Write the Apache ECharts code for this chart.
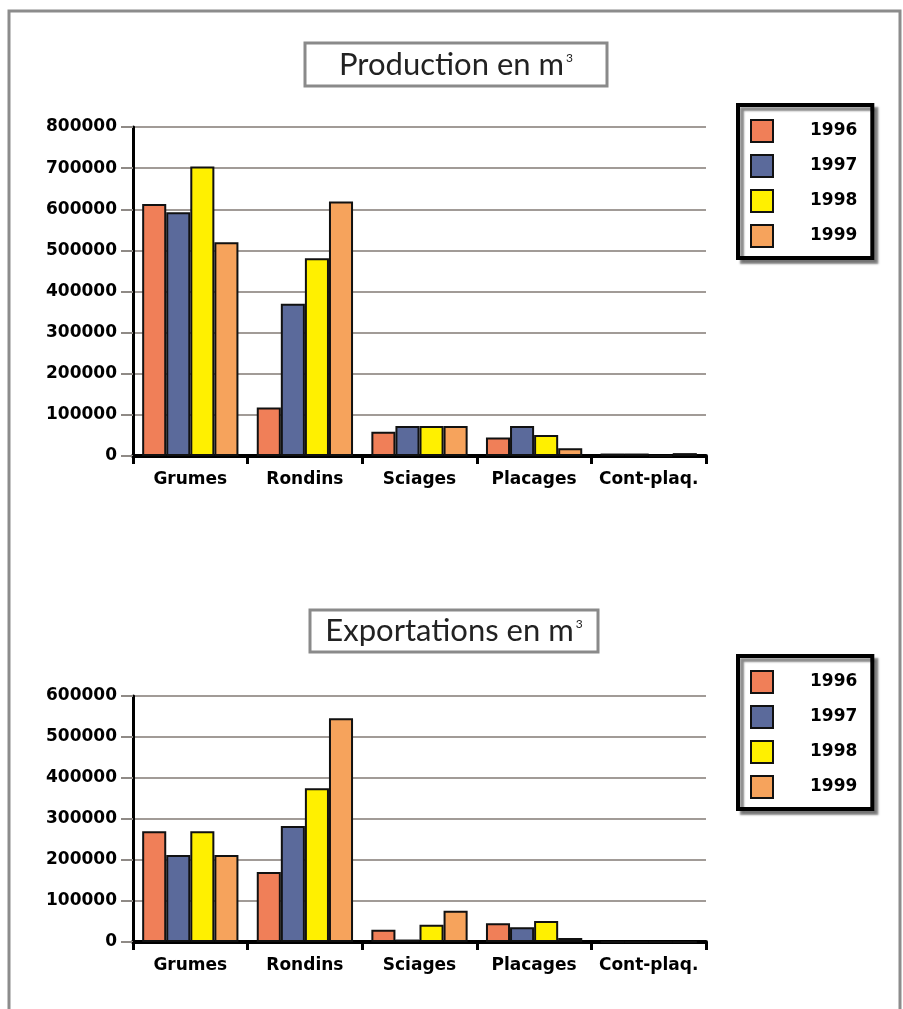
<!DOCTYPE html>
<html>
<head>
<meta charset="utf-8">
<script src="https://cdn.jsdelivr.net/npm/echarts@6/dist/echarts.min.js"></script>
<style>
  html, body { margin: 0; padding: 0; background: #ffffff; }
  #chart { width: 903px; height: 1009px; }
</style>
</head>
<body>
<div id="chart"></div>
<script>
// Product categories and years
const categories = ['Grumes', 'Rondins', 'Sciages', 'Placages', 'Cont-plaq.'];
const years = ['1996', '1997', '1998', '1999'];

// Production (m³) per year
const production1996 = [613000, 118000, 59000, 45000, 6000];
const production1997 = [593000, 370000, 73000, 73000, 6000];
const production1998 = [704000, 481000, 73000, 51000, 1500];
const production1999 = [520000, 619000, 73000, 19000, 7000];

// Exports (m³) per year
const export1996 = [270000, 171000, 30000, 46000, 0];
const export1997 = [212000, 283000, 6000, 36000, 0];
const export1998 = [270000, 375000, 42000, 51000, 0];
const export1999 = [212000, 546000, 76000, 10000, 0];

// Value axis ranges
const productionMax = 800000;
const exportMax = 600000;
const axisStep = 100000;

const yearColors = ['#F07F58', '#5B6A9B', '#FFF000', '#F6A35C'];
const productionSeries = [production1996, production1997, production1998, production1999];
const exportSeries = [export1996, export1997, export1998, export1999];

const labelFont = { fontFamily: 'DejaVu Sans', fontWeight: 'bold', fontSize: 17, color: '#000' };

// Framed heading: the box is a rect, the text is a title centred in it
function titleText(text, cx, cy) {
  return {
    text: '{t|' + text + '}{s|3}',
    left: cx,
    top: cy,
    textAlign: 'center',
    textVerticalAlign: 'middle',
    padding: 0,
    textStyle: {
      rich: {
        t: { fontFamily: 'Lato', fontWeight: 'normal', fontSize: 31, color: '#222', lineHeight: 36 },
        s: { fontFamily: 'Lato', fontWeight: 'normal', fontSize: 12, color: '#222', verticalAlign: 'top', lineHeight: 36, padding: [5, 0, 0, 2] }
      }
    }
  };
}

function titleFrame(x, y, w, h) {
  return {
    type: 'rect',
    z: 1,
    shape: { x: x, y: y, width: w, height: h },
    style: { fill: '#fff', stroke: '#8a8a8a', lineWidth: 3 }
  };
}

function legendBox(top) {
  return {
    data: years,
    orient: 'vertical',
    left: 738,
    top: top,
    itemWidth: 22,
    itemHeight: 22,
    itemGap: 11,
    icon: 'rect',
    padding: [14, 15, 10, 12],
    backgroundColor: '#fff',
    borderColor: '#000',
    borderWidth: 4,
    shadowColor: 'rgba(90,90,90,0.7)',
    shadowBlur: 2,
    shadowOffsetX: 4,
    shadowOffsetY: 4,
    selectedMode: false,
    textStyle: Object.assign({}, labelFont, { padding: [0, 0, 0, 32] })
  };
}

function valueAxis(gridIndex, max) {
  return {
    type: 'value',
    gridIndex: gridIndex,
    min: 0,
    max: max,
    interval: axisStep,
    axisLine: { show: true, lineStyle: { color: '#000', width: 3 } },
    axisTick: { show: true, length: 12, lineStyle: { color: '#8f8a86', width: 2 } },
    axisLabel: Object.assign({}, labelFont, { margin: 16, formatter: v => String(v) }),
    splitLine: { show: true, lineStyle: { color: '#a19b97', width: 2 } }
  };
}

function categoryAxis(gridIndex) {
  return {
    type: 'category',
    gridIndex: gridIndex,
    data: categories,
    axisLine: { show: true, lineStyle: { color: '#000', width: 4 } },
    axisTick: { show: true, length: 8, lineStyle: { color: '#000', width: 3 } },
    axisLabel: Object.assign({}, labelFont, { margin: 15, interval: 0 })
  };
}

function barSeries(dataSets, axisIndex) {
  return dataSets.map((values, i) => ({
    name: years[i],
    type: 'bar',
    xAxisIndex: axisIndex,
    yAxisIndex: axisIndex,
    data: values,
    barGap: '0%',
    barCategoryGap: '16%',
    itemStyle: { color: yearColors[i], borderColor: '#111', borderWidth: 2 }
  }));
}

const chart = echarts.init(document.getElementById('chart'), null, { renderer: 'canvas' });

chart.setOption({
  backgroundColor: '#ffffff',
  animation: false,
  color: yearColors,
  graphic: [
    {
      type: 'rect',
      z: -10,
      shape: { x: 9, y: 11, width: 891, height: 1100 },
      style: { fill: 'none', stroke: '#8c8c8c', lineWidth: 3 }
    },
    titleFrame(305, 43, 302, 43),
    titleFrame(310, 610, 288, 42)
  ],
  title: [
    titleText('Production en m', 456, 65),
    titleText('Exportations en m', 454, 631)
  ],
  legend: [legendBox(105), legendBox(656)],
  grid: [
    { left: 133, right: 197, top: 127, bottom: 553 },
    { left: 133, right: 197, top: 696, bottom: 67 }
  ],
  xAxis: [categoryAxis(0), categoryAxis(1)],
  yAxis: [valueAxis(0, productionMax), valueAxis(1, exportMax)],
  series: barSeries(productionSeries, 0).concat(barSeries(exportSeries, 1))
});
</script>
</body>
</html>
